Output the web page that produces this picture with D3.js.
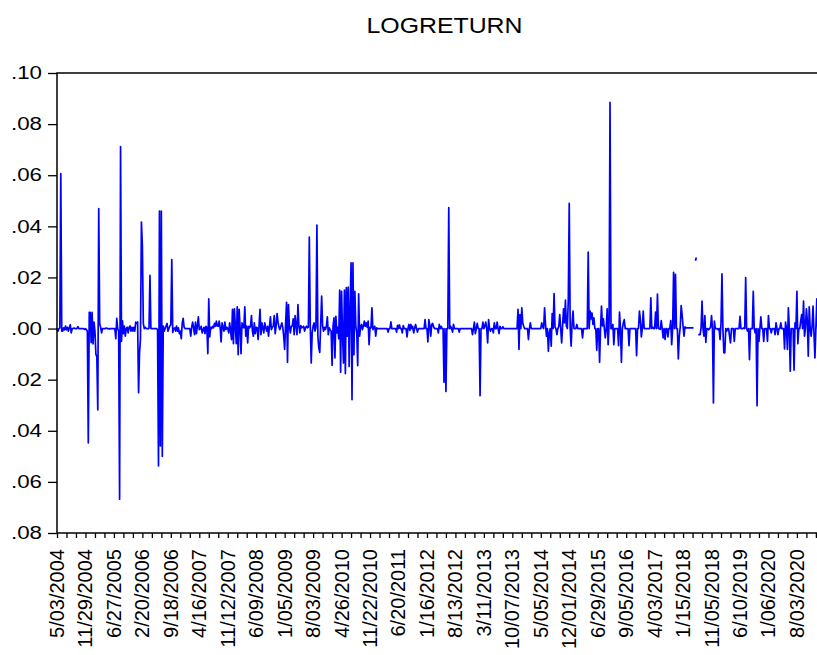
<!DOCTYPE html>
<html><head><meta charset="utf-8">
<script src="https://cdn.jsdelivr.net/npm/d3@7"></script>
<style>html,body{margin:0;padding:0;background:#fff;overflow:hidden}</style>
</head><body>
<script>
const chartTitle = "LOGRETURN";
const dateLabels = ["5/03/2004","11/29/2004","6/27/2005","2/20/2006","9/18/2006","4/16/2007","11/12/2007","6/09/2008","1/05/2009","8/03/2009","4/26/2010","11/22/2010","6/20/2011","1/16/2012","8/13/2012","3/11/2013","10/07/2013","5/05/2014","12/01/2014","6/29/2015","9/05/2016","4/03/2017","1/15/2018","11/05/2018","6/10/2019","1/06/2020","8/03/2020"];
const yTickValues = [-0.08,-0.06,-0.04,-0.02,0,0.02,0.04,0.06,0.08,0.10];
const yTickLabels = [".08",".06",".04",".02",".00",".02",".04",".06",".08",".10"];
const logreturn = [
0,-.001,0,.0003,.0606,-.001,-.001,.0003,-.0005,.001,
-.0005,.0005,-.001,.0003,.0015,-.0017,0,0,.0002,0,
0,0,.0008,0,0,0,0,0,0,-.0003,
0,-.0005,-.001,-.0447,.0063,.0063,-.0055,.0063,-.006,.0025,
-.001,-.01,-.011,-.0318,.0469,.002,.0005,-.0017,0,0,
0,0,.0002,0,0,-.0002,0,0,0,0,
0,0,-.004,.004,0,-.001,-.0668,.0712,-.005,.003,
-.002,.001,-.003,0,.0005,-.0017,.0005,.001,-.001,.0005,
-.001,.0005,-.001,.0025,.002,.0026,-.0251,-.0095,-.004,.0417,
.0323,.002,0,.0005,0,0,0,0,.0208,0,
0,0,0,0,0,0,-.0005,-.0537,.046,-.0459,
.046,-.050,.001,-.001,0,.001,.002,-.001,0,.001,
.0016,.027,-.0015,0,.0003,-.001,.001,-.001,.0003,-.002,
-.001,-.004,.002,.004,.0005,0,0,0,0,0,
0,-.003,.0005,.0025,.0003,-.0024,.0025,-.002,.001,.0046,
-.0004,0,.0009,-.0017,-.0004,.0005,-.002,.0009,.0003,-.0098,
.0116,-.0033,.0005,0,.0009,.0003,.002,.0009,.0029,.001,
.0009,.0029,.0005,-.0052,.0022,.0005,-.001,.0025,-.0004,.0005,
0,-.0017,.0022,-.001,-.0043,.0075,-.0059,.0077,.001,-.0059,
.0085,-.0102,.0075,.0005,-.0098,.0022,.0005,.0003,.0085,-.003,
.001,-.0056,.0009,.0003,.0009,.0051,-.001,-.003,.0022,-.002,
.0005,.0003,-.0043,.001,.0075,-.0024,.0022,.0003,-.0017,.0022,
.0005,-.001,.0009,-.003,.001,.0046,-.0004,.0005,.0009,.0051,
-.002,.001,.0059,.0025,.0005,-.0004,.0009,.0022,.0005,-.003,
-.0082,.002,.0103,-.0132,.0094,.001,-.0017,.0009,.001,.0038,
-.0024,.0051,.001,-.0024,.0094,.001,-.0017,.0012,.0003,.0005,
.0009,-.001,.0003,.0009,.0003,.0005,.0358,.001,-.0135,-.0017,
.001,.0022,-.001,.0005,.0405,-.003,-.0076,-.0093,.002,.0127,
.001,-.001,.0005,-.0004,.001,.0046,-.0024,.0003,-.0004,-.001,
-.0144,.001,.0042,-.0115,.0048,-.0017,.0005,-.004,.015,-.0171,
.0146,-.002,-.0135,.015,-.0176,.016,-.003,.0162,-.0148,.0075,
.0257,-.0278,.0257,-.0102,.0146,.001,-.0017,-.0145,.0136,-.003,
.0005,.0016,-.0004,.001,.0029,.0009,.0022,.0005,.0029,-.0063,
.0005,.0003,.0081,-.0004,.0005,.0009,-.003,.0003,0,0,
0,0,0,0,0,0,0,0,0,-.0014,
0,0,.0026,0,0,0,0,0,-.0014,.0013,
0,.0014,0,0,-.0017,.0012,0,0,0,-.0033,
0,.0016,-.0007,.0016,0,.0009,-.0017,0,.0016,0,
-.0014,0,0,0,0,0,0,0,.0035,0,
0,-.0052,.0035,.0012,-.003,.0016,.002,.0007,0,0,
0,0,-.0017,.0016,0,.0009,0,0,-.021,0,
-.0246,0,0,.0473,0,.0009,0,-.0014,.0016,0,
0,0,0,0,-.0014,0,0,0,0,0,
0,0,0,0,0,0,0,0,-.0024,0,
.0025,-.002,0,.002,0,0,-.0263,0,0,.0025,
0,.0009,.0025,0,-.0056,.0035,0,-.001,0,0,
-.0017,.0022,0,0,.0025,0,-.002,.0009,0,0,
.0007,0,0,0,0,0,0,0,0,0,
0,0,0,0,0,0,.0075,-.0082,.0055,0,
.0081,.0022,.0009,0,0,0,0,-.0043,0,.0022,
0,0,0,0,0,0,0,0,0,0,
0,.0022,.0007,0,.0081,.0016,-.003,0,-.0089,-.0017,
0,-.0069,.0059,0,.0137,.0005,0,-.0024,0,.0009,
.0055,0,-.0056,.001,.0077,.0022,.0111,.001,0,.0111,
.049,0,-.0069,.002,.0068,0,0,0,.0016,0,
0,0,0,0,-.0037,0,0,0,0,0,
.0299,0,.0068,.0038,.0061,.0016,.0042,0,0,-.0085,
0,0,-.0132,0,.0088,.001,.0038,0,-.0037,0,
.0077,-.0063,.0022,.0885,0,0,.0016,-.0063,0,0,
0,0,-.0067,.0064,0,-.0132,0,.0022,.0035,0,
0,0,0,-.0067,0,0,0,0,0,0,
0,-.0106,0,0,.0068,.0035,-.0033,0,.0068,0,
0,0,0,0,0,0,.012,0,.0005,0,
0,.0064,0,.0135,0,0,-.0003,.0031,0,-.0037,
0,-.0043,0,0,-.0033,0,0,.0031,-.0063,0,
.022,0,.0212,0,0,-.0119,-.003,.0005,.009,.0055,
.0009,-.003,.0007,.0003,.0003,.0003,.0003,.0003,.0003,.0003,
.0003,.0003,null,.0265,.0278,null,-.0024,-.0024,-.0024,.0003,
.0107,0,-.003,.0051,-.0054,0,0,-.0005,0,.0005,
.0051,0,-.0291,.0029,0,0,0,-.0005,0,-.0043,
.0022,.0214,0,-.0095,-.0095,0,-.001,0,0,-.003,
-.0056,0,0,0,-.005,0,0,0,0,0,
.0048,0,0,0,.0003,0,.0199,0,-.001,0,
-.0122,0,0,0,.0146,0,-.0017,0,-.0302,0,
-.005,0,.0046,0,0,-.005,0,0,0,-.005,
.0051,0,0,-.0017,0,0,0,-.0024,.0022,0,
-.0024,0,0,.0022,0,0,0,-.008,.0025,0,
-.0082,.0081,0,-.0167,0,0,0,-.0163,.0022,0,
.0146,-.0059,0,0,.0029,.0055,0,.0107,-.003,0,
.0077,.0029,-.0108,.0085,0,-.003,.0009,.0088,-.0017,-.0115,
0,.0116,0,.001,-.002,.003
];

const W = 817, H = 655;
const plot = {left: 57, top: 73, right: 832, bottom: 533};
const totalObs = 818, obsPerTick = 10, obsPerLabel = 30;
const font = "'Liberation Sans', Arial, Helvetica, sans-serif";

const svg = d3.select("body").append("svg")
  .attr("width", W).attr("height", H)
  .style("background", "#fff").style("display", "block");

const x = d3.scaleLinear().domain([0, totalObs - 1]).range([plot.left, plot.right]);
const y = d3.scaleLinear().domain([-0.08, 0.10]).range([plot.bottom, plot.top]);

// title
svg.append("text")
  .attr("x", (plot.left + plot.right) / 2).attr("y", 33)
  .attr("text-anchor", "middle")
  .attr("font-family", font).attr("font-size", 22)
  .attr("textLength", 156).attr("lengthAdjust", "spacingAndGlyphs")
  .attr("fill", "#000")
  .text(chartTitle);

// series line
const line = d3.line()
  .defined(d => d !== null)
  .x((d, i) => x(i))
  .y(d => y(d));
svg.append("path")
  .datum(logreturn)
  .attr("d", line)
  .attr("fill", "none")
  .attr("stroke", "#0000ff")
  .attr("stroke-width", 1.7)
  .attr("stroke-linejoin", "round");

// frame
svg.append("rect")
  .attr("x", plot.left).attr("y", plot.top)
  .attr("width", plot.right - plot.left).attr("height", plot.bottom - plot.top)
  .attr("fill", "none").attr("stroke", "#000").attr("stroke-width", 1.5);

// y axis
const yAxis = d3.axisLeft(y)
  .tickValues(yTickValues)
  .tickSize(9).tickPadding(6)
  .tickFormat((d, i) => yTickLabels[i]);
const gy = svg.append("g").attr("transform", `translate(${plot.left},0)`).call(yAxis);
gy.select(".domain").remove();
gy.selectAll(".tick line").attr("stroke", "#000").attr("stroke-width", 1.3);
gy.selectAll(".tick text")
  .attr("font-family", font).attr("font-size", 18).attr("fill", "#000")
  .attr("textLength", 31).attr("lengthAdjust", "spacingAndGlyphs");

// x axis ticks
const xAxis = d3.axisBottom(x)
  .tickValues(d3.range(0, totalObs, obsPerTick))
  .tickSize(5).tickFormat("");
const gx = svg.append("g").attr("transform", `translate(0,${plot.bottom})`).call(xAxis);
gx.select(".domain").remove();
gx.selectAll(".tick line").attr("stroke", "#000").attr("stroke-width", 1.3);

// x labels (rotated)
svg.append("g").selectAll("text")
  .data(dateLabels)
  .join("text")
  .attr("transform", (d, i) => `translate(${x(i * obsPerLabel)},${plot.bottom + 16}) rotate(-90)`)
  .attr("text-anchor", "end")
  .attr("dy", "0.35em")
  .attr("font-family", font).attr("font-size", 20)
  .attr("fill", "#000")
  .text(d => d);
</script>
</body></html>
